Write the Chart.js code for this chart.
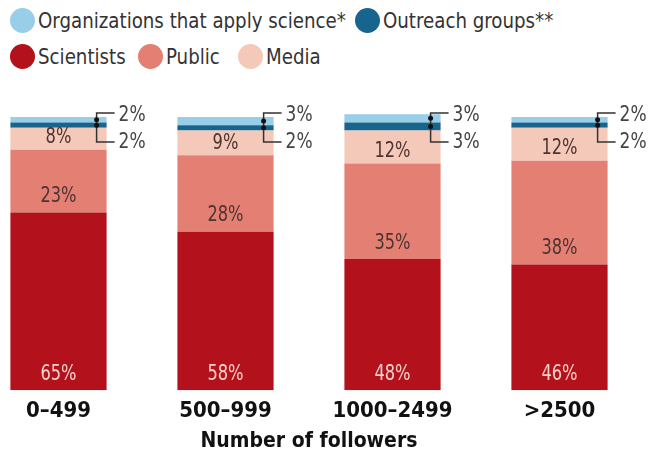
<!DOCTYPE html>
<html>
<head>
<meta charset="utf-8">
<script src="https://cdn.jsdelivr.net/npm/chart.js@4/dist/chart.umd.min.js"></script>
<style>
  html, body { margin: 0; padding: 0; background: #fff; }
  body { width: 655px; height: 450px; position: relative; overflow: hidden;
         font-family: "Liberation Sans Narrow", "DejaVu Sans Condensed", sans-serif; }
  #wrap { position: absolute; left: -25px; top: 0; width: 680px; height: 450px; }
  .lg { position: absolute; display: flex; align-items: center; font-size: 22px; color: #333; white-space: nowrap; }
  .dot { width: 25px; height: 25px; border-radius: 50%; margin-right: 3px; flex: none; }
  .tx { display: inline-block; transform: scaleX(0.92); transform-origin: left center; }
</style>
</head>
<body>
<div id="legend"></div>
<div id="wrap"><canvas id="c" width="680" height="450"></canvas></div>
<script>
const categories = ["0\u2013499", "500\u2013999", "1000\u20132499", ">2500"];
const scientists = [65, 58, 48, 46];
const publicVals = [23, 28, 35, 38];
const media = [8, 9, 12, 12];
const outreach = [2, 2, 3, 2];
const organizations = [2, 3, 3, 2];
const axisTitle = "Number of followers";

const colors = {
  scientists: "#b3121c",
  public: "#e47f74",
  media: "#f5c9ba",
  outreach: "#17658c",
  organizations: "#98cee8"
};

// HTML legend (two rows)
const legendItems = [
  { text: "Organizations that apply science*", color: colors.organizations, left: 10, top: 8 },
  { text: "Outreach groups**", color: colors.outreach, left: 355, top: 8 },
  { text: "Scientists", color: colors.scientists, left: 10, top: 44 },
  { text: "Public", color: colors.public, left: 138, top: 44 },
  { text: "Media", color: colors.media, left: 238, top: 44 }
];
const lg = document.getElementById("legend");
legendItems.forEach(it => {
  const d = document.createElement("div");
  d.className = "lg";
  d.style.left = it.left + "px";
  d.style.top = it.top + "px";
  d.innerHTML = '<span class="dot" style="background:' + it.color + '"></span><span class="tx">' + it.text + '</span>';
  lg.appendChild(d);
});

const FONT = '"Liberation Sans Narrow", "DejaVu Sans Condensed", sans-serif';

function narrowText(ctx, text, x, y, align) {
  ctx.save();
  ctx.translate(x, y);
  ctx.scale(0.86, 1);
  ctx.textAlign = align;
  ctx.fillText(text, 0, 0);
  ctx.restore();
}

const labelPlugin = {
  id: "segLabels",
  afterDatasetsDraw(chart) {
    const ctx = chart.ctx;
    const yScale = chart.scales.y;
    ctx.save();
    ctx.textBaseline = "middle";
    ctx.font = "21px " + FONT;
    // scientists (dataset 0)
    chart.getDatasetMeta(0).data.forEach((bar, i) => {
      ctx.fillStyle = "#f7d2c9";
      narrowText(ctx, scientists[i] + "%", bar.x, bar.base - 16, "center");
    });
    // public (1)
    chart.getDatasetMeta(1).data.forEach((bar, i) => {
      ctx.fillStyle = "#4e3431";
      narrowText(ctx, publicVals[i] + "%", bar.x, bar.base - 16, "center");
    });
    // media (2)
    chart.getDatasetMeta(2).data.forEach((bar, i) => {
      ctx.fillStyle = "#4e3431";
      narrowText(ctx, media[i] + "%", bar.x, bar.base - 12, "center");
    });
    // brackets for outreach (3) and organizations (4)
    const metaO = chart.getDatasetMeta(3).data;
    const metaG = chart.getDatasetMeta(4).data;
    const topY = yScale.getPixelForValue(100) - 4;
    const botY = yScale.getPixelForValue(100) + 25;
    ctx.font = "22px " + FONT;
    metaO.forEach((barO, i) => {
      const barG = metaG[i];
      const x = barO.x + barO.width / 2 - 10;
      const x2 = x + 18;
      ctx.strokeStyle = "#333";
      ctx.lineWidth = 1.5;
      ctx.beginPath();
      ctx.moveTo(x2, topY); ctx.lineTo(x, topY); ctx.lineTo(x, botY); ctx.lineTo(x2, botY);
      ctx.stroke();
      ctx.fillStyle = "#111";
      [(barG.y + barG.base) / 2, (barO.y + barO.base) / 2].forEach(cy => {
        ctx.beginPath(); ctx.arc(x, cy, 2.5, 0, Math.PI * 2); ctx.fill();
      });
      ctx.fillStyle = "#444";
      narrowText(ctx, organizations[i] + "%", x2 + 4, topY + 2, "left");
      narrowText(ctx, outreach[i] + "%", x2 + 4, botY, "left");
    });
    ctx.restore();
  }
};

const mk = (label, data, color) => ({
  label, data, backgroundColor: color, borderWidth: 0,
  barPercentage: 0.576, categoryPercentage: 1.0
});

new Chart(document.getElementById("c"), {
  type: "bar",
  data: {
    labels: categories,
    datasets: [
      mk("Scientists", scientists, colors.scientists),
      mk("Public", publicVals, colors.public),
      mk("Media", media, colors.media),
      mk("Outreach groups**", outreach, colors.outreach),
      mk("Organizations that apply science*", organizations, colors.organizations)
    ]
  },
  options: {
    responsive: false,
    animation: false,
    devicePixelRatio: 1,
    layout: { padding: { top: 106, right: 12, left: 0, bottom: 0 } },
    plugins: { legend: { display: false }, tooltip: { enabled: false } },
    scales: {
      x: {
        stacked: true,
        grid: { display: false, drawTicks: false },
        border: { display: false },
        ticks: { color: "#111", padding: 11, font: { family: FONT, size: 22, weight: "bold", lineHeight: 0.95 } },
        title: { display: true, text: axisTitle, color: "#111", padding: { top: 0, bottom: 0 },
                 font: { family: FONT, size: 21, weight: "bold", lineHeight: 0.8 } }
      },
      y: { stacked: true, display: false, min: 0, max: 104 }
    }
  },
  plugins: [labelPlugin]
});
</script>
</body>
</html>
